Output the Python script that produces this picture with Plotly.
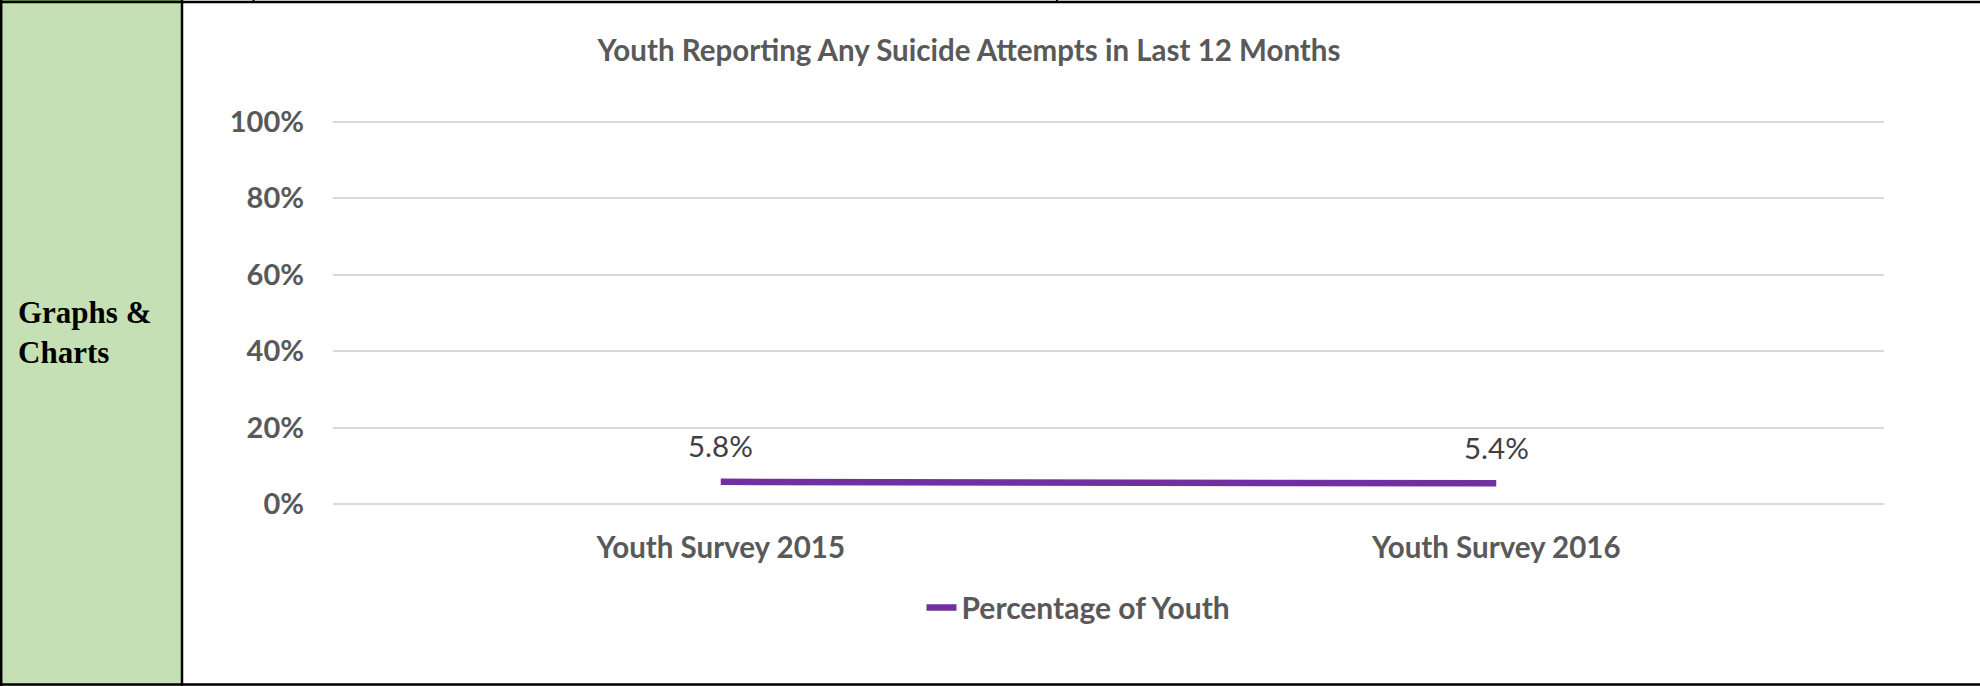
import plotly.graph_objects as go

# Survey data
categories = ["Youth Survey 2015", "Youth Survey 2016"]
pct_youth = [0.058, 0.054]
y_ticks = [0, 0.2, 0.4, 0.6, 0.8, 1.0]
y_tick_labels = ["0%", "20%", "40%", "60%", "80%", "100%"]

W, H = 1980, 686
PURPLE = "#7030A0"
AXIS_GREY = "#595959"
LABEL_GREY = "#404040"
FONT = "Lato"


def px(x):
    return x / W


def py(y_from_top):
    return (H - y_from_top) / H


# Plot area in pixels: 0% at y=504, 100% at y=121.7; small range pad keeps
# the end gridlines visible
Y0_PX, Y1_PX = 504.0, 121.7
PAD = 0.003
unit_px = (Y0_PX - Y1_PX) / 1.0
y_dom = [py(Y0_PX + PAD * unit_px), py(Y1_PX - PAD * unit_px)]

fig = go.Figure()

fig.add_trace(go.Scatter(
    x=categories,
    y=pct_youth,
    mode="lines",
    name="Percentage of Youth",
    line=dict(color=PURPLE, width=6.5),
    hoverinfo="skip",
))

# Value labels above each point
for cat, val in zip(categories, pct_youth):
    fig.add_annotation(
        x=cat, y=val, xref="x", yref="y",
        text=f"{val * 100:.1f}%",
        showarrow=False, yshift=36,
        font=dict(family=FONT, size=29.5, color=LABEL_GREY),
    )

# Table cell layout around the chart
shapes = [
    # green header cell
    dict(type="rect", xref="paper", yref="paper",
         x0=0, x1=px(182), y0=0, y1=1,
         fillcolor="#C5E0B4", line_width=0, layer="below"),
    # thin green edge on top of header cell
    dict(type="line", xref="paper", yref="paper",
         x0=0, x1=px(182), y0=py(0.5), y1=py(0.5),
         line=dict(color="#70AD47", width=1)),
    # top border
    dict(type="line", xref="paper", yref="paper",
         x0=0, x1=1, y0=py(2), y1=py(2),
         line=dict(color="black", width=2.5)),
    # bottom border
    dict(type="line", xref="paper", yref="paper",
         x0=0, x1=1, y0=py(684.5), y1=py(684.5),
         line=dict(color="black", width=2.5)),
    # left border
    dict(type="line", xref="paper", yref="paper",
         x0=px(1.2), x1=px(1.2), y0=0, y1=1,
         line=dict(color="black", width=2.5)),
    # separator between header cell and chart cell
    dict(type="line", xref="paper", yref="paper",
         x0=px(182), x1=px(182), y0=0, y1=1,
         line=dict(color="black", width=2.5)),
    # stubs of the row above
    dict(type="line", xref="paper", yref="paper",
         x0=px(253.5), x1=px(253.5), y0=py(0), y1=py(3),
         line=dict(color="black", width=2)),
    dict(type="line", xref="paper", yref="paper",
         x0=px(1057), x1=px(1057), y0=py(0), y1=py(3),
         line=dict(color="black", width=2)),
]

fig.add_annotation(
    text="<b>Graphs &amp;<br>Charts</b>", xref="paper", yref="paper",
    x=px(16), y=py(332), xanchor="left", yanchor="middle",
    align="left", showarrow=False,
    font=dict(family="Liberation Serif", size=31, color="black"),
)

fig.update_layout(
    width=W, height=H,
    margin=dict(l=0, r=0, t=0, b=0, pad=0, autoexpand=False),
    paper_bgcolor="white",
    plot_bgcolor="white",
    shapes=shapes,
    title=dict(
        text="<b>Youth Reporting Any Suicide Attempts in Last 12 Months</b>",
        x=px(969), xanchor="center",
        y=py(50.5), yanchor="middle",
        font=dict(family=FONT, size=29.5, color=AXIS_GREY),
    ),
    xaxis=dict(
        domain=[px(333), px(1884)],
        range=[-0.5, 1.5],
        automargin=False,
        showgrid=False, zeroline=False, showline=False,
        ticks="", ticklabelstandoff=22,
        tickfont=dict(family=FONT, size=29.5, color=AXIS_GREY, weight="bold"),
        fixedrange=True,
    ),
    yaxis=dict(
        domain=y_dom,
        range=[-PAD, 1 + PAD],
        automargin=False,
        tickvals=y_ticks, ticktext=y_tick_labels,
        showgrid=True, gridcolor="#D9D9D9", gridwidth=2,
        zeroline=False, showline=False,
        ticks="", ticklabelstandoff=28,
        tickfont=dict(family=FONT, size=29, color=AXIS_GREY, weight="bold"),
        fixedrange=True,
    ),
    showlegend=True,
    legend=dict(
        orientation="h",
        x=px(921.5), xanchor="left",
        y=py(607.5), yanchor="middle",
        font=dict(family=FONT, size=30, color=AXIS_GREY, weight="bold"),
        bgcolor="rgba(0,0,0,0)",
    ),
)

fig.write_html("out.html")
